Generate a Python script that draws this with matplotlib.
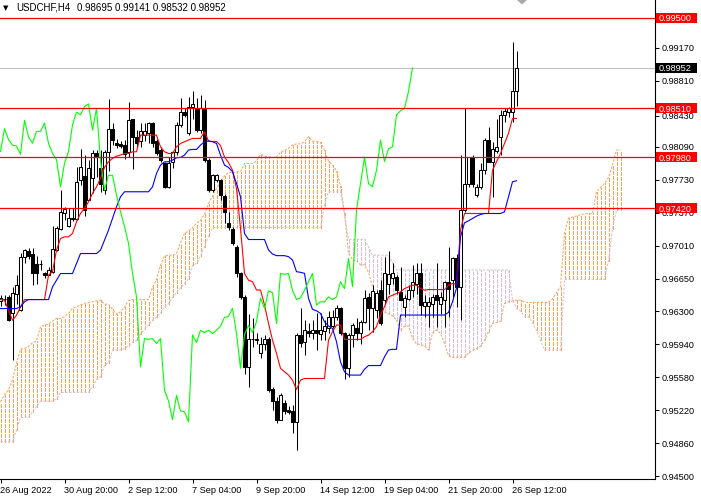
import matplotlib
matplotlib.use("Agg")
import matplotlib.pyplot as plt
from matplotlib.patches import Rectangle, Polygon
from matplotlib.collections import LineCollection
from matplotlib.transforms import IdentityTransform
import numpy as np

plt.rcParams['font.family'] = ['Liberation Sans', 'DejaVu Sans']

symbol = "USDCHF,H4"

opens = [0.96410, 0.96430, 0.96450, 0.96280, 0.96490, 0.96310, 0.96890, 0.96960, 0.96920, 0.96810,
         0.96810, 0.96720, 0.96690, 0.96730, 0.96970, 0.97190, 0.97370, 0.97230, 0.97320, 0.97300,
         0.97730, 0.97770, 0.97510, 0.97750, 0.98020, 0.97860, 0.97620, 0.98040, 0.98290, 0.98130,
         0.98120, 0.98110, 0.98030, 0.98390, 0.98200, 0.98150, 0.98220, 0.98240, 0.98350, 0.98150,
         0.98060, 0.97910, 0.97655, 0.97930, 0.98040, 0.98330, 0.98470, 0.98240, 0.98530, 0.98500,
         0.98275, 0.98500, 0.97945, 0.97620, 0.97730, 0.97730, 0.97550, 0.97265, 0.97200, 0.97000,
         0.96715, 0.96455, 0.95690, 0.96000, 0.95985, 0.95845, 0.95945, 0.96000, 0.95445, 0.95320,
         0.95115, 0.95300, 0.95220, 0.95210, 0.95090, 0.96040, 0.95965, 0.96085, 0.96065, 0.96090,
         0.96050, 0.96085, 0.96120, 0.96135, 0.96230, 0.96330, 0.96055, 0.95675, 0.96040, 0.96120,
         0.96065, 0.96185, 0.96450, 0.96330, 0.96310, 0.96530, 0.96420, 0.96600, 0.96655, 0.96670,
         0.96510, 0.96345, 0.96435, 0.96525, 0.96600, 0.96710, 0.96350, 0.96350, 0.96380, 0.96470,
         0.96380, 0.96420, 0.96620, 0.96635, 0.96875, 0.96565, 0.97400, 0.97690, 0.97980, 0.97565,
         0.97655, 0.97835, 0.98165, 0.97930, 0.98050, 0.98200, 0.98440, 0.98475, 0.98475, 0.98695]
highs = [0.96470, 0.96480, 0.96470, 0.96560, 0.96690, 0.96930, 0.96980, 0.96990, 0.96990, 0.96900,
         0.96860, 0.96730, 0.96780, 0.97230, 0.97230, 0.97620, 0.97440, 0.97420, 0.97420, 0.97870,
         0.98070, 0.98000, 0.97950, 0.98060, 0.98060, 0.98060, 0.98060, 0.98610, 0.98350, 0.98180,
         0.98150, 0.98170, 0.98580, 0.98400, 0.98270, 0.98350, 0.98350, 0.98365, 0.98365, 0.98180,
         0.98090, 0.97930, 0.97980, 0.98040, 0.98365, 0.98620, 0.98510, 0.98640, 0.98700, 0.98620,
         0.98655, 0.98600, 0.97965, 0.97800, 0.97800, 0.97745, 0.97580, 0.97385, 0.97220, 0.97020,
         0.96730, 0.96470, 0.96270, 0.96220, 0.96055, 0.96020, 0.96040, 0.96020, 0.95475, 0.95365,
         0.95410, 0.95330, 0.95260, 0.95275, 0.96055, 0.96330, 0.96200, 0.96165, 0.96200, 0.96275,
         0.96275, 0.96200, 0.96305, 0.96310, 0.96365, 0.96345, 0.96075, 0.96055, 0.96165, 0.96220,
         0.96200, 0.96530, 0.96495, 0.96585, 0.96530, 0.96640, 0.96890, 0.96950, 0.96820, 0.96690,
         0.96780, 0.96470, 0.96580, 0.96800, 0.96820, 0.96820, 0.96470, 0.96455, 0.96490, 0.96825,
         0.96510, 0.96630, 0.97000, 0.96890, 0.96925, 0.98000, 0.98510, 0.97985, 0.98000, 0.97690,
         0.97910, 0.98185, 0.98310, 0.98145, 0.98400, 0.98495, 0.98510, 0.98530, 0.99240, 0.99141]
lows = [0.96350, 0.96370, 0.96190, 0.95770, 0.96380, 0.96300, 0.96820, 0.96870, 0.96580, 0.96600,
        0.96750, 0.96660, 0.96690, 0.96710, 0.96950, 0.97180, 0.97290, 0.97220, 0.97280, 0.97290,
        0.97670, 0.97340, 0.97510, 0.97590, 0.97760, 0.97600, 0.97580, 0.97830, 0.98110, 0.98080,
        0.98080, 0.97960, 0.97980, 0.97845, 0.98090, 0.98090, 0.98150, 0.98130, 0.98090, 0.98000,
        0.97930, 0.97640, 0.97640, 0.97855, 0.98000, 0.98310, 0.98420, 0.98220, 0.98400, 0.98255,
        0.98240, 0.97930, 0.97600, 0.97600, 0.97710, 0.97510, 0.97255, 0.97185, 0.97020, 0.96670,
        0.96435, 0.95615, 0.95470, 0.95910, 0.95945, 0.95785, 0.95875, 0.95420, 0.95220, 0.95080,
        0.95110, 0.95180, 0.95180, 0.94970, 0.94780, 0.95910, 0.95820, 0.96020, 0.96000, 0.95875,
        0.95985, 0.95985, 0.96055, 0.96120, 0.96200, 0.96040, 0.95555, 0.95585, 0.95910, 0.95985,
        0.95945, 0.96165, 0.96090, 0.96075, 0.96220, 0.96145, 0.96380, 0.96490, 0.96600, 0.96490,
        0.96420, 0.96235, 0.96420, 0.96455, 0.96490, 0.96255, 0.96235, 0.96125, 0.96235, 0.96125,
        0.96270, 0.96125, 0.96235, 0.96455, 0.96345, 0.96200, 0.97380, 0.97655, 0.97655, 0.97545,
        0.97635, 0.97800, 0.97925, 0.97545, 0.98020, 0.98000, 0.98365, 0.98420, 0.98365, 0.98532]
closes = [0.96440, 0.96430, 0.96200, 0.96500, 0.96580, 0.96890, 0.96970, 0.96900, 0.96720, 0.96720,
          0.96810, 0.96690, 0.96750, 0.96980, 0.97210, 0.97380, 0.97410, 0.97320, 0.97300, 0.97710,
          0.97870, 0.97400, 0.97860, 0.98020, 0.97990, 0.97690, 0.98040, 0.98290, 0.98170, 0.98110,
          0.98100, 0.98010, 0.98380, 0.98200, 0.98130, 0.98260, 0.98260, 0.98350, 0.98130, 0.98020,
          0.97950, 0.97655, 0.97910, 0.98040, 0.98330, 0.98470, 0.98440, 0.98530, 0.98560, 0.98275,
          0.98510, 0.97945, 0.97620, 0.97780, 0.97780, 0.97565, 0.97385, 0.97220, 0.97040, 0.96710,
          0.96455, 0.95690, 0.96000, 0.95990, 0.96000, 0.95945, 0.96000, 0.95435, 0.95320, 0.95115,
          0.95380, 0.95210, 0.95200, 0.95090, 0.96040, 0.95955, 0.96090, 0.96065, 0.96090, 0.96055,
          0.96090, 0.96135, 0.96230, 0.96240, 0.96330, 0.96055, 0.95675, 0.96040, 0.96145, 0.96065,
          0.96185, 0.96440, 0.96330, 0.96520, 0.96500, 0.96165, 0.96710, 0.96700, 0.96710, 0.96525,
          0.96425, 0.96445, 0.96525, 0.96620, 0.96710, 0.96365, 0.96400, 0.96400, 0.96455, 0.96425,
          0.96455, 0.96620, 0.96545, 0.96875, 0.96565, 0.97400, 0.97690, 0.97980, 0.97690, 0.97655,
          0.97835, 0.98165, 0.97930, 0.98070, 0.98090, 0.98440, 0.98485, 0.98510, 0.98695, 0.98952]

tenkan = [0.96425, 0.96418, 0.96310, 0.96200, 0.96254, 0.96345, 0.96425, 0.96425, 0.96425, 0.96425,
          0.96425, 0.96425, 0.96691, 0.96727, 0.96964, 0.97091, 0.97109, 0.97109, 0.97146, 0.97273,
          0.97364, 0.97419, 0.97492, 0.97583, 0.97655, 0.97747, 0.97867, 0.97928, 0.97965, 0.97990,
          0.98001, 0.98019, 0.98019, 0.98037, 0.98037, 0.98219, 0.98219, 0.98219, 0.98219, 0.98219,
          0.98092, 0.98037, 0.98019, 0.98019, 0.98092, 0.98128, 0.98147, 0.98165, 0.98183, 0.98183,
          0.98183, 0.98256, 0.98154, 0.98150, 0.98150, 0.98105, 0.97980, 0.97920, 0.97837, 0.97637,
          0.97200, 0.96709, 0.96636, 0.96620, 0.96529, 0.96529, 0.96365, 0.96165, 0.95983, 0.95837,
          0.95674, 0.95637, 0.95601, 0.95546, 0.95444, 0.95546, 0.95564, 0.95564, 0.95564, 0.95564,
          0.95564, 0.95564, 0.95983, 0.96074, 0.96147, 0.96147, 0.95990, 0.95990, 0.95990, 0.95990,
          0.95990, 0.96019, 0.96037, 0.96074, 0.96129, 0.96256, 0.96347, 0.96454, 0.96472, 0.96490,
          0.96509, 0.96545, 0.96563, 0.96581, 0.96581, 0.96545, 0.96527, 0.96534, 0.96534, 0.96534,
          0.96534, 0.96534, 0.96581, 0.96600, 0.96592, 0.97182, 0.97364, 0.97364, 0.97364, 0.97364,
          0.97364, 0.97364, 0.97364, 0.97837, 0.97928, 0.98019, 0.98128, 0.98238, 0.98401, 0.98401]
kijun = [0.96327, 0.96327, 0.96327, 0.96327, 0.96327, 0.96345, 0.96400, 0.96425, 0.96425, 0.96425,
         0.96425, 0.96425, 0.96425, 0.96563, 0.96636, 0.96709, 0.96709, 0.96709, 0.96709, 0.96818,
         0.96927, 0.96927, 0.96927, 0.96927, 0.96927, 0.96964, 0.97073, 0.97182, 0.97310, 0.97437,
         0.97546, 0.97601, 0.97601, 0.97601, 0.97601, 0.97601, 0.97601, 0.97601, 0.97655, 0.97801,
         0.97892, 0.97928, 0.97928, 0.97946, 0.97972, 0.97976, 0.98001, 0.98056, 0.98063, 0.98063,
         0.98110, 0.98147, 0.98154, 0.98147, 0.98128, 0.98001, 0.97892, 0.97866, 0.97819, 0.97692,
         0.97546, 0.97146, 0.97080, 0.97080, 0.97080, 0.97080, 0.97080, 0.96966, 0.96922, 0.96904,
         0.96904, 0.96904, 0.96893, 0.96857, 0.96729, 0.96722, 0.96711, 0.96438, 0.96318, 0.96303,
         0.96274, 0.96183, 0.96136, 0.96110, 0.95965, 0.95746, 0.95637, 0.95601, 0.95601, 0.95601,
         0.95601, 0.95665, 0.95705, 0.95705, 0.95705, 0.95705, 0.95800, 0.95875, 0.95882, 0.95882,
         0.96256, 0.96256, 0.96256, 0.96256, 0.96256, 0.96256, 0.96256, 0.96256, 0.96256, 0.96256,
         0.96256, 0.96256, 0.96285, 0.96400, 0.96550, 0.97109, 0.97262, 0.97284, 0.97310, 0.97335,
         0.97353, 0.97364, 0.97364, 0.97364, 0.97364, 0.97364, 0.97382, 0.97546, 0.97710, 0.97721]

# Senkou spans as drawn (already shifted 26 bars ahead): bars 0..155
senkou_a = [0.95310, 0.95383, 0.95438, 0.95547, 0.95730, 0.95882, 0.95893, 0.95911, 0.95954, 0.95976,
            0.96129, 0.96147, 0.96158, 0.96191, 0.96220, 0.96220, 0.96238, 0.96275, 0.96330, 0.96347,
            0.96365, 0.96384, 0.96390, 0.96400, 0.96411, 0.96420, 0.96376, 0.96373, 0.96319, 0.96264,
            0.96291, 0.96345, 0.96413, 0.96425, 0.96425, 0.96425, 0.96425, 0.96425, 0.96558, 0.96645,
            0.96800, 0.96900, 0.96909, 0.96909, 0.96928, 0.97046, 0.97146, 0.97173, 0.97210, 0.97255,
            0.97291, 0.97356, 0.97470, 0.97555, 0.97638, 0.97714, 0.97774, 0.97810, 0.97810, 0.97819,
            0.97819, 0.97910, 0.97910, 0.97910, 0.97937, 0.98010, 0.97992, 0.97983, 0.97974, 0.97983,
            0.98032, 0.98052, 0.98074, 0.98111, 0.98123, 0.98123, 0.98147, 0.98202, 0.98154, 0.98149,
            0.98139, 0.98053, 0.97936, 0.97893, 0.97828, 0.97665, 0.97373, 0.96928, 0.96858, 0.96850,
            0.96805, 0.96805, 0.96723, 0.96566, 0.96453, 0.96371, 0.96289, 0.96271, 0.96247, 0.96202,
            0.96087, 0.96134, 0.96138, 0.96001, 0.95941, 0.95934, 0.95919, 0.95874, 0.96060, 0.96092,
            0.96056, 0.95947, 0.95814, 0.95796, 0.95796, 0.95796, 0.95796, 0.95842, 0.95871, 0.95890,
            0.95917, 0.95981, 0.96074, 0.96165, 0.96177, 0.96186, 0.96383, 0.96401, 0.96410, 0.96419,
            0.96419, 0.96401, 0.96392, 0.96395, 0.96395, 0.96395, 0.96395, 0.96395, 0.96433, 0.96500,
            0.96571, 0.97146, 0.97313, 0.97324, 0.97337, 0.97350, 0.97359, 0.97364, 0.97364, 0.97601,
            0.97646, 0.97692, 0.97755, 0.97892, 0.98056, 0.98061]
senkou_b = [0.94873, 0.94873, 0.94873, 0.94873, 0.95000, 0.95139, 0.95139, 0.95139, 0.95200, 0.95256,
            0.95317, 0.95317, 0.95317, 0.95317, 0.95340, 0.95412, 0.95412, 0.95412, 0.95412, 0.95412,
            0.95412, 0.95412, 0.95412, 0.95474, 0.95554, 0.95583, 0.95710, 0.95736, 0.95874, 0.95874,
            0.95874, 0.95890, 0.95920, 0.95960, 0.95980, 0.96050, 0.96100, 0.96150, 0.96200, 0.96230,
            0.96280, 0.96340, 0.96380, 0.96450, 0.96500, 0.96550, 0.96600, 0.96650, 0.96800, 0.96820,
            0.96900, 0.97000, 0.97120, 0.97210, 0.97210, 0.97210, 0.97210, 0.97210, 0.97210, 0.97210,
            0.97210, 0.97210, 0.97210, 0.97210, 0.97210, 0.97210, 0.97210, 0.97210, 0.97210, 0.97210,
            0.97210, 0.97210, 0.97210, 0.97210, 0.97210, 0.97210, 0.97210, 0.97210, 0.97210, 0.97210,
            0.97210, 0.97450, 0.97600, 0.97600, 0.97600, 0.97600, 0.97350, 0.97081, 0.97081, 0.97081,
            0.97081, 0.97081, 0.97000, 0.96910, 0.96910, 0.96910, 0.96910, 0.96910, 0.96830, 0.96748,
            0.96748, 0.96748, 0.96748, 0.96748, 0.96748, 0.96748, 0.96748, 0.96748, 0.96748, 0.96748,
            0.96748, 0.96748, 0.96748, 0.96748, 0.96748, 0.96748, 0.96748, 0.96748, 0.96748, 0.96748,
            0.96748, 0.96748, 0.96748, 0.96748, 0.96748, 0.96748, 0.96748, 0.96748, 0.96420, 0.96330,
            0.96300, 0.96240, 0.96240, 0.96170, 0.96090, 0.95980, 0.95874, 0.95874, 0.95874, 0.95874,
            0.95874, 0.96646, 0.96646, 0.96646, 0.96646, 0.96646, 0.96646, 0.96646, 0.96646, 0.96646,
            0.96646, 0.96646, 0.96850, 0.97200, 0.97400, 0.97400]

level_lines = [0.99500, 0.98510, 0.97980, 0.97420]
price_ticks = [0.99170, 0.98810, 0.98430, 0.98090, 0.97730, 0.97370, 0.97010,
               0.96650, 0.96300, 0.95940, 0.95580, 0.95220, 0.94860, 0.94500]
time_tick_bars = [0, 16, 32, 48, 64, 80, 96, 112, 128]
time_tick_labels = ["26 Aug 2022", "30 Aug 20:00", "2 Sep 12:00", "7 Sep 04:00", "9 Sep 20:00",
                    "14 Sep 12:00", "19 Sep 04:00", "21 Sep 20:00", "26 Sep 12:00"]
chikou_shift = 26

# ---------------------------------------------------------------
W, H = 701, 500
fig = plt.figure(figsize=(W / 100, H / 100), dpi=100)
fig.patch.set_facecolor('white')
ax = fig.add_axes([0, 21 / H, 655 / W, 479 / H])
ax.set_facecolor('white')
ax.set_xlim(-0.125, 163.625)
ax.set_ylim(0.944673, 0.996931)

O = np.array(opens); Hh = np.array(highs); L = np.array(lows); C = np.array(closes)
n = len(C)
x = np.arange(n)

SANDY = '#F4A460'
THISTLE = '#D8BFD8'
dash = (0, (2.2, 1.45))

# Ichimoku cloud: vertical dotted hatch, built as short solid segments
A = np.array(senkou_a); B = np.array(senkou_b)
xs = np.arange(len(A))
y0d, y1d = ax.get_ylim()
price_per_px = (y1d - y0d) / (ax.get_position().height * H)
on, off = 3 * price_per_px, 2 * price_per_px
segs, cols = [], []
for j in xs:
    lo, hi = min(A[j], B[j]), max(A[j], B[j])
    col = SANDY if A[j] >= B[j] else THISTLE
    yy = lo
    while yy < hi:
        segs.append([(j, yy), (j, min(yy + on, hi))])
        cols.append(col)
        yy += on + off
ax.add_collection(LineCollection(segs, colors=cols, linewidths=0.72, antialiased=False, zorder=1))
ax.plot(xs, A, color=SANDY, lw=0.75, ls=dash, zorder=1.2)
ax.plot(xs, B, color=THISTLE, lw=0.75, ls=dash, zorder=1.2)

# bid line
ax.axhline(C[-1], color='#C0C0C0', lw=0.8, zorder=0.8)

# candles
ax.vlines(x, L, Hh, color='black', lw=0.75, zorder=3)
bull = C >= O
body_lo = np.minimum(O, C)
body_h = np.maximum(np.abs(C - O), 1e-6)
ax.bar(x, body_h, bottom=body_lo, width=0.55,
       color=np.where(bull, 'white', 'black'), edgecolor='black', linewidth=0.75, zorder=3.1)

# Tenkan, Kijun, Chikou
ax.plot(x, tenkan, color='#FF0000', lw=0.8, zorder=4)
ax.plot(x, kijun, color='#0000FF', lw=0.8, zorder=4)
ax.plot(x[:n - chikou_shift], C[chikou_shift:], color='#00FF00', lw=0.8, zorder=4)

# horizontal levels
for lv in level_lines:
    ax.axhline(lv, color='#FF0000', lw=0.9, zorder=5)

# axes styling
ax.set_xlim(-0.125, 163.625)
ax.set_ylim(0.944673, 0.996931)
for s in ['left', 'top']:
    ax.spines[s].set_visible(False)
for s in ['right', 'bottom']:
    ax.spines[s].set_linewidth(0.8)
    ax.spines[s].set_color('black')
ax.yaxis.tick_right()
ax.set_yticks(price_ticks, [f"{p:.5f}" for p in price_ticks])
ax.set_xticks(time_tick_bars, time_tick_labels)
ax.tick_params(axis='both', direction='out', length=3, width=0.75, labelsize=6.6, colors='black')
ax.tick_params(axis='y', pad=1.6)
ax.tick_params(axis='x', pad=1.8)
for lab in ax.get_xticklabels():
    lab.set_horizontalalignment('left')

# price labels on the scale
def price_box(p, fc):
    _, yd = ax.transData.transform((0, p))
    rect = Rectangle((656, yd - 5), 41, 10, transform=IdentityTransform(),
                     facecolor=fc, edgecolor='none', zorder=20)
    fig.add_artist(rect)
    fig.text(659 / W, yd / H, f"{p:.5f}", color='white', fontsize=6.6,
             va='center_baseline', ha='left', zorder=21)

for lv in level_lines:
    price_box(lv, '#FF0000')
price_box(C[-1], '#000000')

# title
fig.text(3 / W, 1 - 8.5 / H, '\u25BC', fontsize=5, va='center', ha='left', family='DejaVu Sans')
fig.text(16 / W, 1 - 8 / H, symbol, fontsize=7, va='center', ha='left')
fig.text(77 / W, 1 - 8 / H, f"{O[-1]:.5f} {Hh[-1]:.5f} {L[-1]:.5f} {C[-1]:.5f}",
         fontsize=7, va='center', ha='left')

# chart shift marker
fig.add_artist(Polygon([(517, 500), (527, 500), (522, 495.5)], closed=True,
                       transform=IdentityTransform(), facecolor='#A9A9A9', edgecolor='none', zorder=20))

fig.savefig('out.png', dpi=100, facecolor='white')
